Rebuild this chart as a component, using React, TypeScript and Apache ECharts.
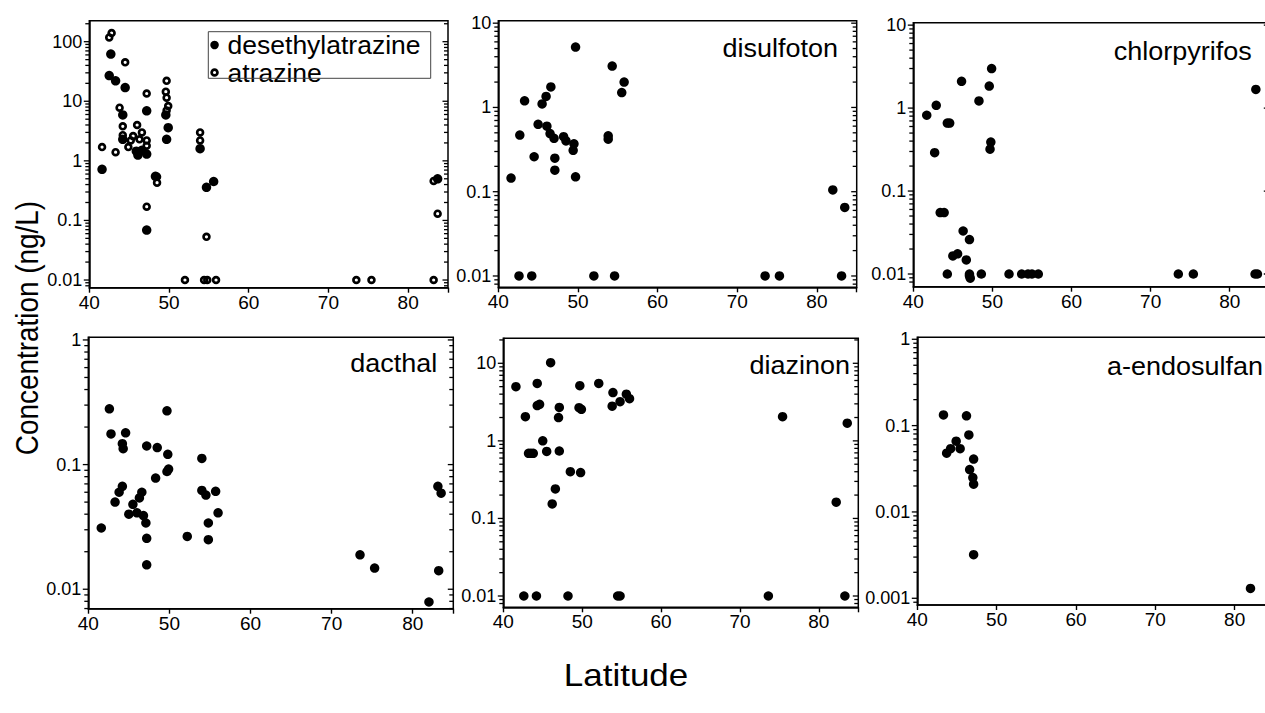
import React, { useEffect, useRef } from "react";
import * as echarts from "echarts";

// Latitude (°N) vs concentration (ng/L) pairs, one list per compound
const desethylatrazine: [number, number][] = [
  [41.6, 0.72], [42.7, 62], [42.5, 27], [43.3, 22], [44.5, 17], [44.2, 5.9], [44.2, 2.3],
  [45.9, 1.45], [46.1, 1.25], [46.6, 1.5], [47.2, 1.3], [47.2, 6.9], [47.2, 0.069],
  [48.3, 0.55], [49.6, 5.9], [49.9, 3.6], [49.7, 2.3], [53.9, 1.6], [54.7, 0.36],
  [55.6, 0.45], [83.7, 0.5],
];
const atrazine: [number, number][] = [
  [42.5, 118], [42.8, 140], [44.5, 45], [41.6, 1.7], [43.3, 1.4], [43.8, 7.8], [44.2, 3.8],
  [44.2, 2.7], [44.9, 1.7], [45.2, 2.2], [45.5, 2.6], [46.0, 4.0], [46.3, 2.3], [46.6, 3.0],
  [47.2, 13.5], [47.2, 2.2], [47.2, 1.8], [47.2, 0.17], [48.5, 0.54], [48.5, 0.43],
  [49.7, 22], [49.6, 14.5], [49.7, 11.5], [49.9, 8.3], [49.7, 7.0], [53.9, 3.0], [53.9, 2.2],
  [54.7, 0.053], [52.0, 0.01], [54.4, 0.01], [54.8, 0.01], [55.9, 0.01], [73.5, 0.01],
  [75.4, 0.01], [83.2, 0.46], [83.7, 0.13], [83.2, 0.01],
];
const disulfoton: [number, number][] = [
  [41.6, 0.145], [42.7, 0.47], [43.3, 1.2], [42.6, 0.01], [44.2, 0.01], [44.5, 0.26],
  [45.0, 0.63], [45.5, 1.1], [46.0, 1.35], [46.6, 1.75], [46.1, 0.6], [46.5, 0.49],
  [47.0, 0.43], [47.1, 0.25], [47.1, 0.18], [48.2, 0.45], [48.5, 0.4], [49.5, 0.37],
  [49.4, 0.31], [49.7, 5.2], [49.7, 0.15], [52.0, 0.01], [53.8, 0.46], [53.8, 0.42],
  [54.3, 3.1], [54.6, 0.01], [55.5, 1.5], [55.8, 2.0], [73.5, 0.01], [75.3, 0.01],
  [82.0, 0.105], [83.5, 0.065], [83.1, 0.01],
];
const chlorpyrifos: [number, number][] = [
  [41.7, 0.82], [42.9, 1.08], [42.7, 0.29], [43.4, 0.055], [43.9, 0.055], [44.3, 0.66],
  [44.6, 0.66], [44.3, 0.01], [45.0, 0.0165], [45.6, 0.0175], [46.1, 2.1], [46.3, 0.033],
  [46.7, 0.0148], [47.1, 0.026], [47.1, 0.01], [47.1, 0.0095], [47.2, 0.0089], [48.3, 1.22],
  [48.6, 0.01], [49.6, 1.84], [49.9, 3.0], [49.8, 0.39], [49.7, 0.32], [52.1, 0.01],
  [53.7, 0.01], [54.5, 0.01], [55.0, 0.01], [55.8, 0.01], [73.5, 0.01], [75.4, 0.01],
  [83.2, 0.01], [83.5, 0.01], [83.3, 1.68],
];
const dacthal: [number, number][] = [
  [41.6, 0.031], [42.6, 0.28], [42.8, 0.176], [43.3, 0.05], [43.8, 0.06], [44.2, 0.067],
  [44.6, 0.18], [44.2, 0.147], [44.3, 0.134], [45.0, 0.04], [45.5, 0.048], [46.0, 0.041],
  [46.3, 0.054], [46.6, 0.06], [46.8, 0.039], [47.1, 0.034], [47.2, 0.141], [47.2, 0.0256],
  [47.2, 0.0157], [48.3, 0.078], [48.5, 0.137], [49.7, 0.27], [49.8, 0.121], [49.7, 0.088],
  [49.9, 0.092], [52.2, 0.0265], [54.0, 0.112], [54.0, 0.062], [54.5, 0.057], [55.7, 0.061],
  [54.8, 0.034], [56.0, 0.041], [54.8, 0.025], [73.5, 0.0189], [75.3, 0.0148],
  [83.1, 0.067], [83.5, 0.059], [83.2, 0.0141], [82.0, 0.0079],
];
const diazinon: [number, number][] = [
  [41.6, 5.0], [44.3, 5.5], [42.8, 2.05], [44.3, 2.85], [44.6, 2.96], [43.2, 0.69],
  [43.5, 0.69], [43.8, 0.69], [45.0, 1.0], [45.5, 0.73], [46.0, 10.2], [47.1, 2.7],
  [47.0, 2.0], [47.1, 0.74], [46.6, 0.24], [46.2, 0.154], [48.5, 0.4], [49.8, 0.39],
  [49.7, 5.15], [49.6, 2.68], [49.9, 2.55], [52.1, 5.5], [53.9, 4.2], [53.8, 2.8],
  [54.8, 3.2], [55.6, 4.0], [56.0, 3.5], [42.6, 0.01], [44.2, 0.01], [48.2, 0.01],
  [54.5, 0.01], [54.8, 0.01], [73.6, 0.01], [75.4, 2.05], [83.6, 1.69], [82.2, 0.162],
  [83.3, 0.01],
];
const aEndosulfan: [number, number][] = [
  [43.3, 0.133], [46.2, 0.13], [46.5, 0.078], [43.7, 0.048], [44.2, 0.054], [44.9, 0.066],
  [45.4, 0.054], [47.1, 0.041], [46.6, 0.031], [47.0, 0.025], [47.1, 0.021], [47.1, 0.0032],
  [82.0, 0.0013],
];

// Concentration axis ranges (ng/L) per panel
const yRanges: [number, number][] = [
  [0.00743, 225],
  [0.00734, 10.7],
  [0.00703, 10.7],
  [0.00698, 1.05],
  [0.00715, 21],
  [0.000836, 1.054],
];
const latRange: [number, number] = [40, 85];
const latTickStep = 10;
const logTickMantissas = [1, 2, 3, 4, 5, 6, 7, 8, 9];
const panelNames = ["", "disulfoton", "chlorpyrifos", "dacthal", "diazinon", "a-endosulfan"];

// Layout of the six plotting areas
const grids = [
  { left: 89.3, top: 20.7, width: 358.7, height: 267 },
  { left: 498.3, top: 20.7, width: 358.4, height: 266.6 },
  { left: 913.3, top: 22.7, width: 356, height: 264 },
  { left: 88.3, top: 337.3, width: 365, height: 271.4 },
  { left: 503.3, top: 338.3, width: 355, height: 269 },
  { left: 917.3, top: 337.3, width: 357, height: 267.7 },
];
const STRIP = 8; // width of the narrow band holding each panel's outward left ticks
const titlePos = [
  null,
  { x: 838, y: 48.2, align: "right" },
  { x: 1251.7, y: 51.5, align: "right" },
  { x: 437.3, y: 362.9, align: "right" },
  { x: 850, y: 365.5, align: "right" },
  { x: 1263, y: 366.2, align: "right" },
];

const FONT = "'Liberation Sans', Arial, Helvetica, sans-serif";
const RING =
  "path://M0,-4A4,4 0 1,1 0,4A4,4 0 1,1 0,-4ZM0,-1.5A1.5,1.5 0 1,0 0,1.5A1.5,1.5 0 1,0 0,-1.5Z";

function decadeLabel(v: number): string {
  const l = Math.log10(v);
  const r = Math.round(l);
  if (Math.abs(l - r) > 1e-6) return "";
  return r >= 0 ? String(Math.round(v)) : Math.pow(10, r).toFixed(-r);
}

// Log tick values (decades and 2..9 sub-steps) inside an axis range, anchored at x
function logTicks([lo, hi]: [number, number], x: number) {
  const out: [number, number, number][] = [];
  for (let d = Math.floor(Math.log10(lo)); d <= Math.ceil(Math.log10(hi)); d++) {
    for (const m of logTickMantissas) {
      const v = Number((m * Math.pow(10, d)).toPrecision(6));
      if (v >= lo && v <= hi) out.push([x, v, m === 1 ? 1 : 0]);
    }
  }
  return out;
}

// Draws a short leftward tick from each anchor point
function renderTick(_p: any, api: any) {
  const p = api.coord([api.value(0), api.value(1)]);
  const len = api.value(2) === 1 ? 5.5 : 4;
  return {
    type: "line",
    shape: { x1: p[0] - len, y1: p[1], x2: p[0], y2: p[1] },
    style: { stroke: "#000", lineWidth: 1.3 },
  };
}

function buildGraphic(): any[] {
  const graphic: any[] = [
    {
      type: "rect",
      shape: { x: 208.3, y: 31.7, width: 222.4, height: 46.6 },
      style: { fill: "none", stroke: "#444", lineWidth: 1 },
      z: 10,
    },
    {
      type: "text",
      x: 27,
      y: 328,
      rotation: Math.PI / 2,
      scaleX: 0.9,
      style: {
        text: "Concentration (ng/L)",
        font: `31px ${FONT}`,
        fill: "#000",
        textAlign: "center",
        textVerticalAlign: "middle",
      },
    },
    {
      type: "text",
      x: 626,
      y: 675,
      scaleY: 0.92,
      style: {
        text: "Latitude",
        font: `35px ${FONT}`,
        fill: "#000",
        textAlign: "center",
        textVerticalAlign: "middle",
      },
    },
  ];
  titlePos.forEach((p, i) => {
    if (!p) return;
    graphic.push({
      type: "text",
      x: p.x,
      y: p.y,
      scaleY: 0.94,
      style: {
        text: panelNames[i],
        font: `27px ${FONT}`,
        fill: "#000",
        textAlign: p.align,
        textVerticalAlign: "middle",
      },
      z: 10,
    });
  });
  return graphic;
}

function buildOption() {
  const gridList: any[] = [];
  const xAxis: any[] = [];
  const yAxis: any[] = [];
  const series: any[] = [];
  const panelData = [desethylatrazine, disulfoton, chlorpyrifos, dacthal, diazinon, aEndosulfan];
  const n = grids.length;

  grids.forEach((g, i) => {
    gridList.push({
      ...g,
      show: true,
      borderColor: "#000",
      borderWidth: 1.5,
      containLabel: false,
      outerBoundsMode: "none",
    });
    xAxis.push({
      gridIndex: i,
      type: "value",
      min: latRange[0],
      max: latRange[1],
      interval: latTickStep,
      axisLine: { show: true, lineStyle: { color: "#000", width: 1.5 } },
      axisTick: { show: true, length: 5, lineStyle: { color: "#000", width: 1.4 } },
      axisLabel: {
        color: "#000",
        fontSize: 19,
        fontFamily: FONT,
        margin: 5,
        formatter: (v: number) => (v % latTickStep === 0 && v <= 80 ? String(v) : ""),
      },
      splitLine: { show: false },
    });
    yAxis.push({
      gridIndex: i,
      type: "log",
      logBase: 10,
      min: yRanges[i][0],
      max: yRanges[i][1],
      position: "left",
      axisLine: { show: true, lineStyle: { color: "#000", width: 1.5 } },
      axisTick: { show: false },
      minorTick: { show: false },
      splitLine: { show: false },
      minorSplitLine: { show: false },
      axisLabel: {
        color: "#000",
        fontSize: 18,
        fontFamily: FONT,
        margin: 7,
        formatter: decadeLabel,
      },
    });
    series.push({
      name: i === 0 ? "desethylatrazine" : panelNames[i],
      type: "scatter",
      xAxisIndex: i,
      yAxisIndex: i,
      data: panelData[i],
      symbol: "circle",
      symbolSize: 9.5,
      itemStyle: { color: "#000", opacity: 1 },
      z: 3,
    });
    // inward ticks along the right frame
    series.push({
      type: "custom",
      coordinateSystem: "cartesian2d",
      xAxisIndex: i,
      yAxisIndex: i,
      clip: false,
      silent: true,
      z: 6,
      encode: { x: 0, y: 1 },
      data: logTicks(yRanges[i], latRange[1]),
      renderItem: renderTick,
    });
  });

  // narrow bands just left of each panel, sharing its log scale, for outward ticks
  grids.forEach((g, i) => {
    const k = n + i;
    gridList.push({
      left: g.left - STRIP,
      top: g.top,
      width: STRIP,
      height: g.height,
      show: false,
      containLabel: false,
      outerBoundsMode: "none",
    });
    xAxis.push({ gridIndex: k, type: "value", min: 0, max: 1, show: false });
    yAxis.push({
      gridIndex: k,
      type: "log",
      logBase: 10,
      min: yRanges[i][0],
      max: yRanges[i][1],
      show: false,
    });
    series.push({
      type: "custom",
      coordinateSystem: "cartesian2d",
      xAxisIndex: k,
      yAxisIndex: k,
      clip: false,
      silent: true,
      z: 6,
      encode: { x: 0, y: 1 },
      data: logTicks(yRanges[i], 1),
      renderItem: renderTick,
    });
  });

  series.push({
    name: "atrazine",
    type: "scatter",
    xAxisIndex: 0,
    yAxisIndex: 0,
    data: atrazine,
    symbol: RING,
    symbolSize: 8.5,
    itemStyle: { color: "#000", opacity: 1 },
    z: 4,
  });

  return {
    animation: false,
    backgroundColor: "#fff",
    textStyle: { fontFamily: FONT },
    grid: gridList,
    xAxis,
    yAxis,
    legend: {
      orient: "vertical",
      left: 210.3,
      top: 31.5,
      padding: 0,
      itemGap: 0.5,
      itemWidth: 16,
      itemHeight: 8.5,
      selectedMode: false,
      textStyle: { fontSize: 26.5, color: "#000", fontFamily: FONT },
      data: [
        { name: "desethylatrazine", icon: "circle", itemStyle: { color: "#000" } },
        { name: "atrazine", icon: RING, itemStyle: { color: "#000" } },
      ],
    },
    graphic: buildGraphic(),
    series,
  };
}

export default function App() {
  const ref = useRef<HTMLDivElement>(null);
  useEffect(() => {
    if (!ref.current) return;
    const chart = echarts.init(ref.current, undefined, { renderer: "svg" });
    chart.setOption(buildOption() as any);
    return () => chart.dispose();
  }, []);
  return (
    <div
      style={{
        position: "fixed",
        left: 0,
        top: 0,
        width: 1265,
        height: 713,
        overflow: "hidden",
        background: "#fff",
      }}
    >
      <div ref={ref} style={{ width: 1300, height: 713 }} />
    </div>
  );
}
